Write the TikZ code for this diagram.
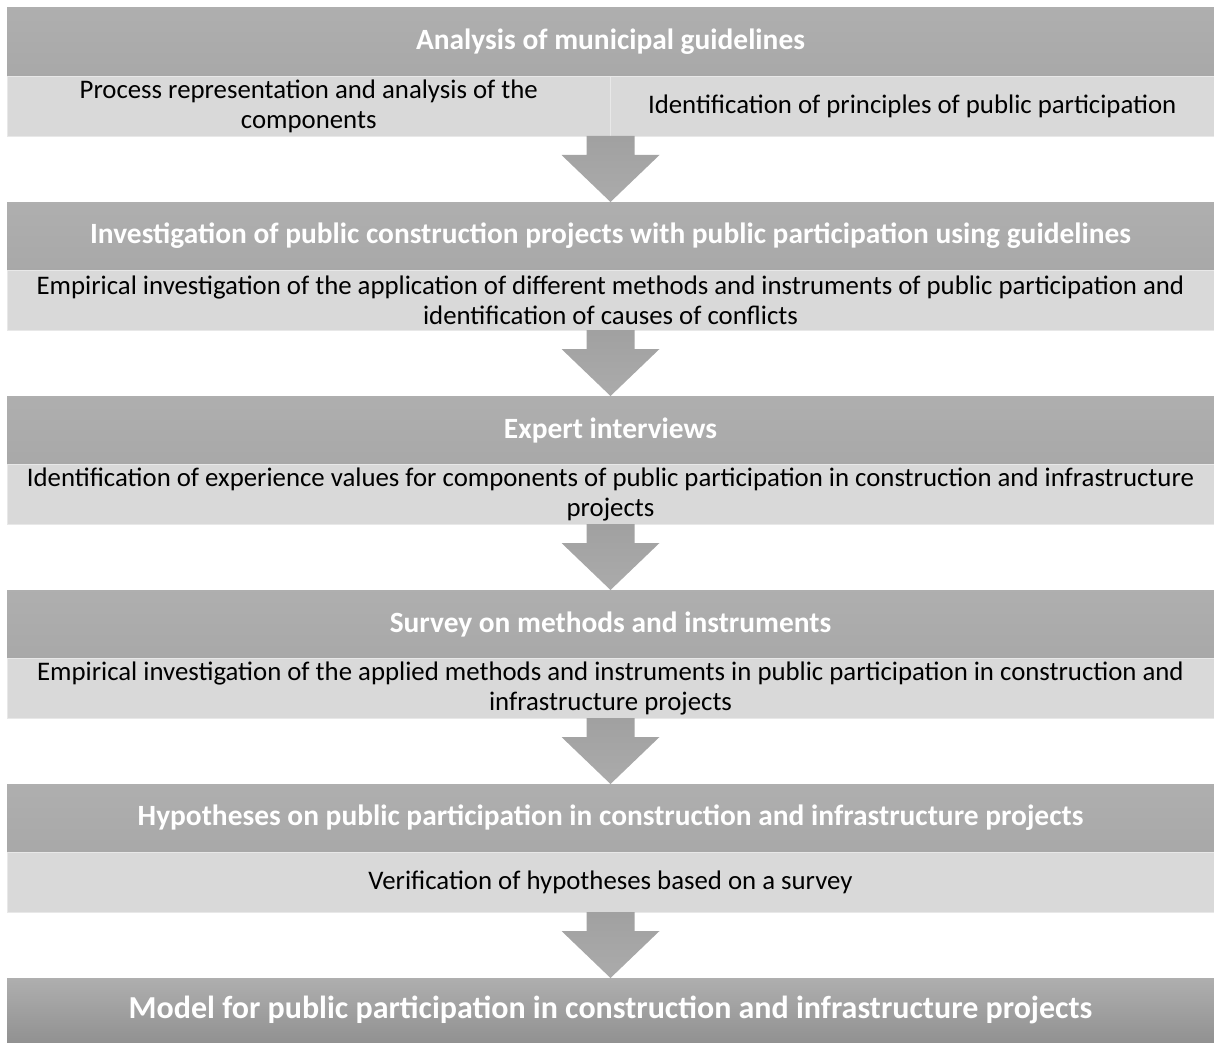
\documentclass[tikz,border=0pt]{standalone}
\usepackage{fontspec}
\setmainfont{Carlito}
\usetikzlibrary{positioning,calc}

\begin{document}
\begin{tikzpicture}[
    x=1pt, y=1pt,
    header/.style={rectangle, inner sep=0pt, outer sep=0pt, minimum width=1207pt, minimum height=68pt,
      top color=gray!63, bottom color=gray!68, text=white, font=\fontsize{29.4}{34}\selectfont\bfseries},
    final/.style={header, minimum height=64pt, top color=gray!63, bottom color=gray!86,
      font=\fontsize{32}{37}\selectfont\bfseries},
    detail/.style={rectangle, inner sep=0pt, outer sep=0pt, minimum width=1207pt, minimum height=60pt,
      fill=gray!30, draw=gray!18, line width=0.6pt, align=center, font=\fontsize{26.8}{30}\selectfont},
    cell/.style={detail, minimum width=603.5pt},
    flow/.style={top color=gray!74, bottom color=gray!66},
    node distance=66pt
  ]
    \useasboundingbox (0,0) rectangle (1214,-1043);

    % Step 1: guidelines, split into two cells
    \node[header, anchor=north] (head1) at (610.5,-8) {Analysis of municipal guidelines};
    \node[cell, below right=0pt and 0pt of head1.south west] (sub1L)
      {Process representation and analysis of the\\components};
    \node[cell, right=0pt of sub1L] (sub1R) {Identification of principles of public participation};

    % Step 2: investigation of projects
    \node[header, below=of sub1L.south east] (head2)
      {Investigation of public construction projects with public participation using guidelines};
    \node[detail, below=0pt of head2] (sub2)
      {Empirical investigation of the application of different methods and instruments of public participation and\\
       identification of causes of conflicts};

    % Step 3: experts
    \node[header, below=of sub2] (head3) {Expert interviews};
    \node[detail, below=0pt of head3] (sub3)
      {Identification of experience values for components of public participation in construction and infrastructure\\
       projects};

    % Step 4: survey
    \node[header, below=of sub3] (head4) {Survey on methods and instruments};
    \node[detail, below=0pt of head4] (sub4)
      {Empirical investigation of the applied methods and instruments in public participation in construction and\\
       infrastructure projects};

    % Step 5: hypotheses
    \node[header, below=of sub4] (head5)
      {Hypotheses on public participation in construction and infrastructure projects};
    \node[detail, below=0pt of head5] (sub5) {Verification of hypotheses based on a survey};

    % Result
    \node[final, below=of sub5] (model)
      {Model for public participation in construction and infrastructure projects};

    % Block arrows between the steps
    \foreach \a/\b in {sub1L.south east/head2, sub2.south/head3, sub3.south/head4,
                       sub4.south/head5, sub5.south/model}
      \shade[flow] ($(\a)+(-24,0)$) -- ($(\a)+(24,0)$) -- ($(\b.north)+(24,47)$)
        -- ($(\b.north)+(49,47)$) -- (\b.north) -- ($(\b.north)+(-49,47)$)
        -- ($(\b.north)+(-24,47)$) -- cycle;
  \end{tikzpicture}
\end{document}
